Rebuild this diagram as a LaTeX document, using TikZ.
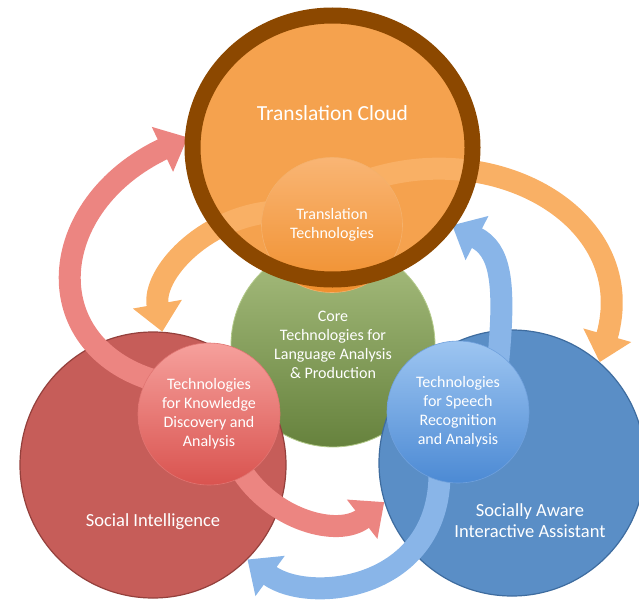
\documentclass[tikz,border=0pt]{standalone}
\usepackage{fontspec}
\setmainfont{Carlito}
\usepackage{tikz}
\usetikzlibrary{arrows.meta, calc, positioning, shapes.geometric}
\usepackage{xcolor}

\definecolor{cloudorange}{HTML}{F5A24E}
\definecolor{cloudbrown}{HTML}{8C4800}
\definecolor{bandorange}{HTML}{F9B065}
\definecolor{tttop}{HTML}{F9B574}
\definecolor{ttbot}{HTML}{F08F2D}
\definecolor{coretop}{HTML}{A9BF80}
\definecolor{corebot}{HTML}{66823D}
\definecolor{corerim}{HTML}{B3CA8A}
\definecolor{socialred}{HTML}{C65D59}
\definecolor{socialedge}{HTML}{94403C}
\definecolor{knowtop}{HTML}{F6A09C}
\definecolor{knowbot}{HTML}{D9534F}
\definecolor{bandred}{HTML}{EC8581}
\definecolor{awareblue}{HTML}{5A8EC6}
\definecolor{awareedge}{HTML}{3E6C9F}
\definecolor{speechtop}{HTML}{9DC5F1}
\definecolor{speechbot}{HTML}{4C8AD4}
\definecolor{bandblue}{HTML}{89B5E8}

\pgfdeclarelayer{back}
\pgfdeclarelayer{bandlow}
\pgfdeclarelayer{cloudlayer}
\pgfdeclarelayer{bandhigh}
\pgfdeclarelayer{front}
\pgfsetlayers{back,bandlow,main,cloudlayer,bandhigh,front}

\begin{document}
\begin{tikzpicture}[x=1pt, y=-1pt,
  every node/.style={align=center, text=white, inner sep=0pt},
  bigcirc/.style={circle, minimum size=266pt, line width=1.2pt},
  smallcirc/.style={circle, minimum size=142pt, line width=.6pt},
  innertxt/.style={font=\fontsize{16}{19}\selectfont},
  outertxt/.style={font=\fontsize{18.5}{21}\selectfont},
  ring/.style={draw=cloudbrown, line width=16pt},
  band/.style={line width=22pt, shorten <=-8pt, -{Triangle[width=48pt,length=28pt]}}]
\useasboundingbox (0,0) rectangle (639,599);

% Outer circles
\begin{pgfonlayer}{back}
\node (core) [circle, minimum size=204pt, draw=corerim, line width=.8pt, top color=coretop, bottom color=corebot, innertxt] at (333,345) {Core\\Technologies for\\Language Analysis\\\& Production};
\node (social) [bigcirc, fill=socialred, draw=socialedge] at (153,465) {};
\node (aware) [bigcirc, fill=awareblue, draw=awareedge] at (512,463) {};
\node (socialtxt) [outertxt] at ([yshift=-57pt]social.center) {Social Intelligence};
\node (awaretxt) [outertxt] at ([xshift=18pt, yshift=-57.5pt]aware.center) {Socially Aware\\Interactive Assistant};
\end{pgfonlayer}

% Inner circles
\node (know) [smallcirc, draw=knowbot!80, top color=knowtop, bottom color=knowbot, innertxt] at (209,414) {Technologies\\for Knowledge\\Discovery and\\Analysis};
\node (speech) [smallcirc, draw=speechbot!80, top color=speechtop, bottom color=speechbot, innertxt] at (458,412) {Technologies\\for Speech\\Recognition\\and Analysis};

% Translation cloud
\begin{pgfonlayer}{cloudlayer}
\node (cloud) [ellipse, minimum width=290pt, minimum height=274pt, fill=cloudorange] at (332.5,147.5) {};
\end{pgfonlayer}
\begin{pgfonlayer}{front}
\node (tt) [ellipse, minimum width=141pt, minimum height=135pt, draw=ttbot!70, line width=.6pt, top color=tttop, bottom color=ttbot, innertxt] at (332,225) {Translation\\Technologies};
\draw[ring] (cloud.center) ellipse [x radius=140pt, y radius=132pt];
\node (cloudtxt) [font=\fontsize{21.5}{24}\selectfont] at ([yshift=34.5pt]cloud.center) {Translation Cloud};
\end{pgfonlayer}

% Red and blue arrows
\begin{pgfonlayer}{bandlow}
\draw[band, bandred] (know.150) .. controls (35,345) and (45,205) .. (cloud.176);
\draw[band, bandred] (know.300) .. controls (272,520) and (338,538) .. (aware.197);
\draw[band, bandblue] (speech.55) .. controls (506,280) and (500,250) .. (cloud.-33);
\draw[band, bandblue] (speech.-105) .. controls (440,590) and (310,605) .. (social.-45);
\end{pgfonlayer}

% Orange arrows
\begin{pgfonlayer}{bandhigh}
\draw[band, bandorange] (tt.170) .. controls (203,219) and (152,274) .. (social.86);
\draw[band, bandorange] (tt.45) .. controls (500,140) and (640,220) .. (aware.49);
\end{pgfonlayer}
\end{tikzpicture}
\end{document}
